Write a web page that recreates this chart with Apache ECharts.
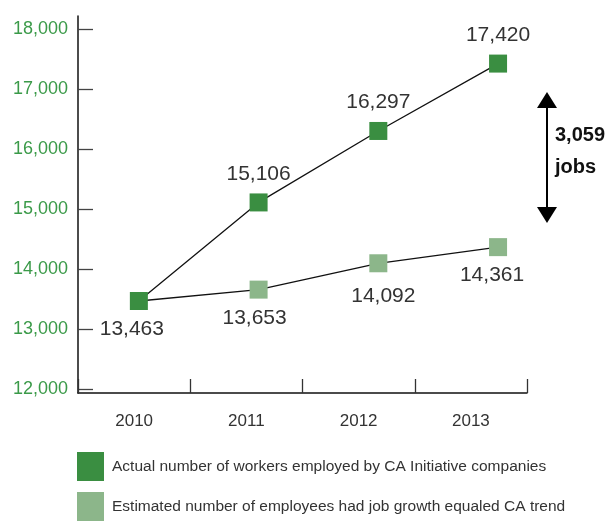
<!DOCTYPE html>
<html>
<head>
<meta charset="utf-8">
<script src="https://cdn.jsdelivr.net/npm/echarts@6/dist/echarts.min.js"></script>
<style>
html,body{margin:0;padding:0;background:#fff;}
#c{width:616px;height:522px;}
</style>
</head>
<body>
<div id="c"></div>
<script>
var years = [2010, 2011, 2012, 2013];
var actualValues = [13463, 15106, 16297, 17420];
var estimatedValues = [13463, 13653, 14092, 14361];
var yTickValues = [12000, 13000, 14000, 15000, 16000, 17000, 18000];
var seriesNames = ['Actual number of workers employed by CA Initiative companies',
                   'Estimated number of employees had job growth equaled CA trend'];
var gapLabel = ['3,059', 'jobs'];

var FONT = '"Liberation Sans", Arial, sans-serif';
var DARK = '#3a8e41', LIGHT = '#8cb68a';

function fmt(v){ return v.toLocaleString('en-US'); }

// per-point label nudges (styling only)
var estLabelOffsets = [[0, 0], [-4, 0], [5, 4], [-6, 0]];

var actualData = years.map(function(y, i){ return [y, actualValues[i]]; });
actualData[0] = {value: actualData[0], label: {position: 'bottom', offset: [-7, 0]}};
var estData = years.map(function(y, i){
  var d = {value: [y, estimatedValues[i]], label: {offset: estLabelOffsets[i]}};
  if (i === 0) { d.symbol = 'none'; d.label = {show: false}; }
  return d;
});

var chart = echarts.init(document.getElementById('c'), null, {renderer: 'canvas'});
chart.setOption({
  animation: false,
  backgroundColor: '#fff',
  grid: {left: 78, right: 89, top: 16, bottom: 129},
  xAxis: [{
    type: 'category',
    data: years.map(String),
    boundaryGap: true,
    axisLine: {show: true, lineStyle: {color: '#111', width: 1.5}},
    axisTick: {show: true, interval: 0, alignWithLabel: false, inside: true, length: 14, lineStyle: {color: '#333', width: 1.3}},
    axisLabel: {color: '#333', fontFamily: FONT, fontSize: 17, margin: 20},
    splitLine: {show: false}
  }, {
    type: 'value',
    min: 2009.4917, max: 2013.2417,
    show: false
  }],
  yAxis: {
    type: 'value',
    min: 11930, max: 18213,
    axisLine: {show: true, lineStyle: {color: '#111', width: 1.5}},
    axisTick: {show: true, inside: true, length: 15, customValues: yTickValues, lineStyle: {color: '#444', width: 1.3}},
    axisLabel: {customValues: yTickValues, color: '#3b9a49', fontFamily: FONT, fontSize: 18, margin: 10,
      formatter: function(v){ return fmt(v); }},
    splitLine: {show: false}
  },
  legend: {
    orient: 'vertical', left: 77, top: 452, itemGap: 11, padding: 0,
    itemWidth: 27, itemHeight: 29, icon: 'rect',
    textStyle: {color: '#333', fontFamily: FONT, fontSize: 15.5, padding: [0, 0, 0, 3]},
    data: seriesNames
  },
  series: [{
    name: seriesNames[1],
    type: 'line', xAxisIndex: 1, z: 2,
    data: estData,
    symbol: 'rect', symbolSize: 18,
    itemStyle: {color: LIGHT},
    lineStyle: {color: '#111', width: 1.3},
    label: {show: true, position: 'bottom', distance: 9, color: '#333', fontFamily: FONT, fontSize: 21,
      formatter: function(p){ return fmt(p.value[1]); }}
  }, {
    name: seriesNames[0],
    type: 'line', xAxisIndex: 1, z: 3,
    data: actualData,
    symbol: 'rect', symbolSize: 18,
    itemStyle: {color: DARK},
    lineStyle: {color: '#111', width: 1.3},
    label: {show: true, position: 'top', distance: 9, color: '#333', fontFamily: FONT, fontSize: 21,
      formatter: function(p){ return fmt(p.value[1]); }}
  }],
  graphic: [
    {type: 'line', shape: {x1: 547, y1: 100, x2: 547, y2: 215}, style: {stroke: '#000', lineWidth: 2}},
    {type: 'polygon', shape: {points: [[547, 92], [537, 108], [557, 108]]}, style: {fill: '#000'}},
    {type: 'polygon', shape: {points: [[547, 223], [537, 207], [557, 207]]}, style: {fill: '#000'}},
    {type: 'text', left: 555, top: 125, style: {text: gapLabel[0], fill: '#111', font: 'bold 20px ' + FONT}},
    {type: 'text', left: 555, top: 157, style: {text: gapLabel[1], fill: '#111', font: 'bold 20px ' + FONT}}
  ]
});
</script>
</body>
</html>
